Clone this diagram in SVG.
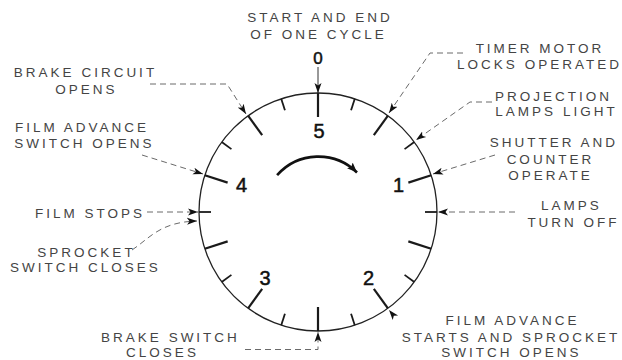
<svg xmlns="http://www.w3.org/2000/svg" width="622" height="360" viewBox="0 0 622 360">
<style>
  .lbl { font-family: "Liberation Sans", Arial, sans-serif; font-size: 13.5px; letter-spacing: 3px; fill: #444; text-anchor: middle; }
  .num { font-family: "Liberation Sans", Arial, sans-serif; font-size: 20px; fill: #111; stroke: #111; stroke-width: 0.5; text-anchor: middle; }
  .ring { fill: none; stroke: #222; stroke-width: 1.3; }
  .long { stroke: #1a1a1a; stroke-width: 2.2; }
  .short { stroke: #1a1a1a; stroke-width: 1.8; }
  .lead { fill: none; stroke: #6a6a6a; stroke-width: 1; stroke-dasharray: 6 4; marker-end: url(#ah); }
  .solid { fill: none; stroke: #333; stroke-width: 1; marker-end: url(#ah); }
</style>
<defs>
  <marker id="ah" markerUnits="userSpaceOnUse" markerWidth="12" markerHeight="10" refX="10" refY="4" orient="auto" viewBox="0 0 12 8">
    <path d="M10,4 L0,0.5 L2.5,4 L0,7.5 Z" fill="#111"/>
  </marker>
  <marker id="ahc" markerUnits="userSpaceOnUse" markerWidth="12" markerHeight="10" refX="10" refY="4" orient="auto" viewBox="0 0 12 8">
    <path d="M10,4 L0,0 L2,4 L0,8 Z" fill="#111"/>
  </marker>
</defs>
<rect width="622" height="360" fill="#fff"/>

<g id="dial">
  <circle class="ring" cx="318" cy="212" r="119"/>
  <g id="ticks">
    <line class="long" x1="318" y1="93" x2="318" y2="117"/>
    <line class="long" x1="318" y1="93" x2="318" y2="117" transform="rotate(36 318 212)"/>
    <line class="long" x1="318" y1="93" x2="318" y2="117" transform="rotate(72 318 212)"/>
    <line class="long" x1="318" y1="93" x2="318" y2="117" transform="rotate(108 318 212)"/>
    <line class="long" x1="318" y1="93" x2="318" y2="117" transform="rotate(144 318 212)"/>
    <line class="long" x1="318" y1="93" x2="318" y2="117" transform="rotate(180 318 212)"/>
    <line class="long" x1="318" y1="93" x2="318" y2="117" transform="rotate(216 318 212)"/>
    <line class="long" x1="318" y1="93" x2="318" y2="117" transform="rotate(252 318 212)"/>
    <line class="long" x1="318" y1="93" x2="318" y2="117" transform="rotate(288 318 212)"/>
    <line class="long" x1="318" y1="93" x2="318" y2="117" transform="rotate(324 318 212)"/>
    <line class="short" x1="318" y1="93" x2="318" y2="105" transform="rotate(18 318 212)"/>
    <line class="short" x1="318" y1="93" x2="318" y2="105" transform="rotate(54 318 212)"/>
    <line class="short" x1="318" y1="93" x2="318" y2="105" transform="rotate(90 318 212)"/>
    <line class="short" x1="318" y1="93" x2="318" y2="105" transform="rotate(126 318 212)"/>
    <line class="short" x1="318" y1="93" x2="318" y2="105" transform="rotate(162 318 212)"/>
    <line class="short" x1="318" y1="93" x2="318" y2="105" transform="rotate(198 318 212)"/>
    <line class="short" x1="318" y1="93" x2="318" y2="105" transform="rotate(234 318 212)"/>
    <line class="short" x1="318" y1="93" x2="318" y2="105" transform="rotate(270 318 212)"/>
    <line class="short" x1="318" y1="93" x2="318" y2="105" transform="rotate(306 318 212)"/>
    <line class="short" x1="318" y1="93" x2="318" y2="105" transform="rotate(342 318 212)"/>
  </g>
  <text class="num" x="319" y="138">5</text>
  <text class="num" x="398.5" y="192">1</text>
  <text class="num" x="368.5" y="285">2</text>
  <text class="num" x="265" y="285">3</text>
  <text class="num" x="241.5" y="192">4</text>
  <path id="rotation" d="M277.1,175.2 A55,55 0 0 1 357,172.5" fill="none" stroke="#111" stroke-width="2.6" marker-end="url(#ahc)"/>
</g>

<g id="n-start">
  <text class="lbl" x="320" y="22">START AND END</text>
  <text class="lbl" x="318.5" y="39">OF ONE CYCLE</text>
  <text class="num" x="318" y="64" style="font-size:17px">0</text>
</g>
<g id="n-brake-circuit">
  <text class="lbl" x="85.5" y="77">BRAKE CIRCUIT</text>
  <text class="lbl" x="86.5" y="94">OPENS</text>
</g>
<g id="n-film-advance-switch">
  <text class="lbl" x="82" y="132">FILM ADVANCE</text>
  <text class="lbl" x="84.5" y="148">SWITCH OPENS</text>
</g>
<g id="n-film-stops">
  <text class="lbl" x="90" y="217.5">FILM STOPS</text>
</g>
<g id="n-sprocket-closes">
  <text class="lbl" x="86.5" y="256.5">SPROCKET</text>
  <text class="lbl" x="85.5" y="272">SWITCH CLOSES</text>
</g>
<g id="n-brake-switch">
  <text class="lbl" x="170.5" y="341.5">BRAKE SWITCH</text>
  <text class="lbl" x="162.5" y="357">CLOSES</text>
</g>
<g id="n-timer-motor">
  <text class="lbl" x="540" y="52.5">TIMER MOTOR</text>
  <text class="lbl" x="539.5" y="69">LOCKS OPERATED</text>
</g>
<g id="n-projection">
  <text class="lbl" x="553.5" y="100.5">PROJECTION</text>
  <text class="lbl" x="556.5" y="116">LAMPS LIGHT</text>
</g>
<g id="n-shutter">
  <text class="lbl" x="554" y="147">SHUTTER AND</text>
  <text class="lbl" x="550.5" y="164">COUNTER</text>
  <text class="lbl" x="550.5" y="180">OPERATE</text>
</g>
<g id="n-lamps-off">
  <text class="lbl" x="571.5" y="210">LAMPS</text>
  <text class="lbl" x="573.5" y="227">TURN OFF</text>
</g>
<g id="n-film-advance-starts">
  <text class="lbl" x="512.5" y="324.5">FILM ADVANCE</text>
  <text class="lbl" x="511" y="341.5">STARTS AND SPROCKET</text>
  <text class="lbl" x="511.5" y="357">SWITCH OPENS</text>
</g>

<g id="connectors">
  <path class="solid" d="M318,67 L318,93"/>
  <path class="lead" d="M150,84 L227,84 L246,114"/>
  <path class="lead" d="M142,155 L203,174"/>
  <path class="lead" d="M147,212 L198,212"/>
  <path class="lead" d="M132,250 C150,238 160,222 197,221"/>
  <path class="lead" d="M245,349.5 L318,349.5 L318,332"/>
  <path class="lead" d="M463,53 L430,53 L389,113"/>
  <path class="lead" d="M492,102 L470,102 L416,140"/>
  <path class="lead" d="M495,155 L433,174"/>
  <path class="lead" d="M515,212 L438,212"/>
  <path d="M399,322 L389,310" fill="none" stroke="none" marker-end="url(#ah)"/>
</g>
</svg>
